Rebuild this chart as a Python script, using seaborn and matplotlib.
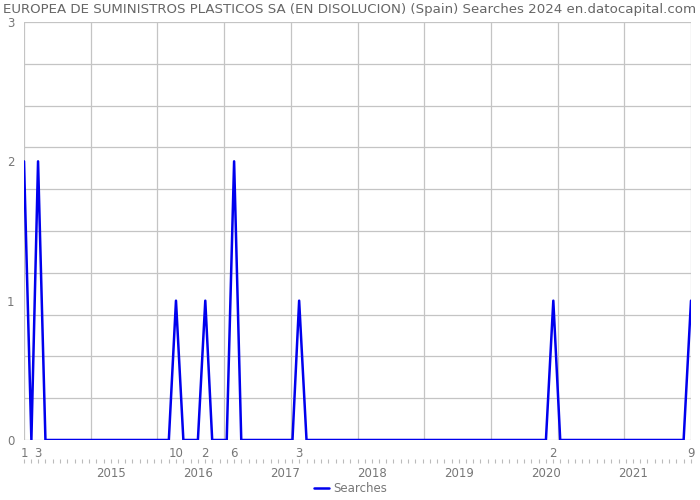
import matplotlib
matplotlib.use("Agg")
import matplotlib.pyplot as plt
import matplotlib.dates as mdates
import numpy as np
import pandas as pd
import seaborn as sns

title = "EUROPEA DE SUMINISTROS PLASTICOS SA (EN DISOLUCION) (Spain) Searches 2024 en.datocapital.com"
start_month = "2014-01-01"
end_month = "2021-09-01"
# non-zero months (others are 0)
peak_months = ["2014-01-01", "2014-03-01", "2015-10-01", "2016-02-01",
               "2016-06-01", "2017-03-01", "2020-02-01", "2021-09-01"]
peak_values = [2, 2, 1, 1, 2, 1, 1, 1]
year_labels = ["2015", "2016", "2017", "2018", "2019", "2020", "2021"]
series_name = "Searches"

months = pd.date_range(start_month, end_month, freq="MS")
values = pd.Series(0, index=months)
for m, v in zip(pd.to_datetime(peak_months), peak_values):
    values[m] = v
df = pd.DataFrame({"date": months, "value": values.values, "series": series_name})

sns.set_style("white")
plt.rcParams["font.family"] = ["DejaVu Sans"]

fig = plt.figure(figsize=(7, 5), dpi=100)
ax = fig.add_axes([24 / 700, 1 - 440 / 500, (691 - 24) / 700, (440 - 22) / 500])

grid_c = "#c4c4c4"
text_c = "#777777"

sns.lineplot(data=df, x="date", y="value", hue="series", palette=["#0000ee"],
             linewidth=1.8, ax=ax, legend=True)

x0 = mdates.date2num(months[0])
x1 = mdates.date2num(months[-1])
ax.set_xlim(x0, x1)
ax.set_ylim(0, 3)

# grid: 10 x 10
for gx in np.linspace(x0, x1, 11):
    ax.axvline(gx, color=grid_c, lw=0.9, zorder=0)
for gy in np.linspace(0, 3, 11):
    ax.axhline(gy, color=grid_c, lw=0.9, zorder=0)

for s in ax.spines.values():
    s.set_visible(False)

ax.set_yticks([0, 1, 2, 3])
ax.set_yticklabels(["0", "1", "2", "3"])
ax.tick_params(axis="y", length=0, pad=7, labelsize=8.5, labelcolor=text_c)

ax.set_xticks(mdates.date2num(pd.to_datetime(peak_months)))
ax.set_xticklabels([str(pd.Timestamp(m).month) for m in peak_months])
ax.xaxis.set_minor_locator(mdates.MonthLocator())
ax.tick_params(axis="x", which="both", length=3, width=0.8, color="#bbbbbb",
               labelsize=8.5, labelcolor=text_c, pad=2)

sec = ax.secondary_xaxis(-0.045)
sec.set_xticks(mdates.date2num(pd.to_datetime([y + "-01-01" for y in year_labels])))
sec.set_xticklabels(year_labels)
sec.xaxis.set_minor_locator(mdates.MonthLocator())
sec.tick_params(axis="x", which="both", length=3, width=0.8, color="#bbbbbb",
                labelsize=8.5, labelcolor=text_c, pad=3)
sec.spines["bottom"].set_visible(False)

ax.set_xlabel("")
ax.set_ylabel("")

leg = ax.legend(loc="center", bbox_to_anchor=(0.49, -0.117), frameon=False,
                fontsize=8.5, handlelength=1.2, handletextpad=0.4)
for t in leg.get_texts():
    t.set_color(text_c)

fig.text(0.5, 0.995, title, ha="center", va="top", fontsize=9.6, color="#666666")

fig.savefig("out.png", dpi=100)
